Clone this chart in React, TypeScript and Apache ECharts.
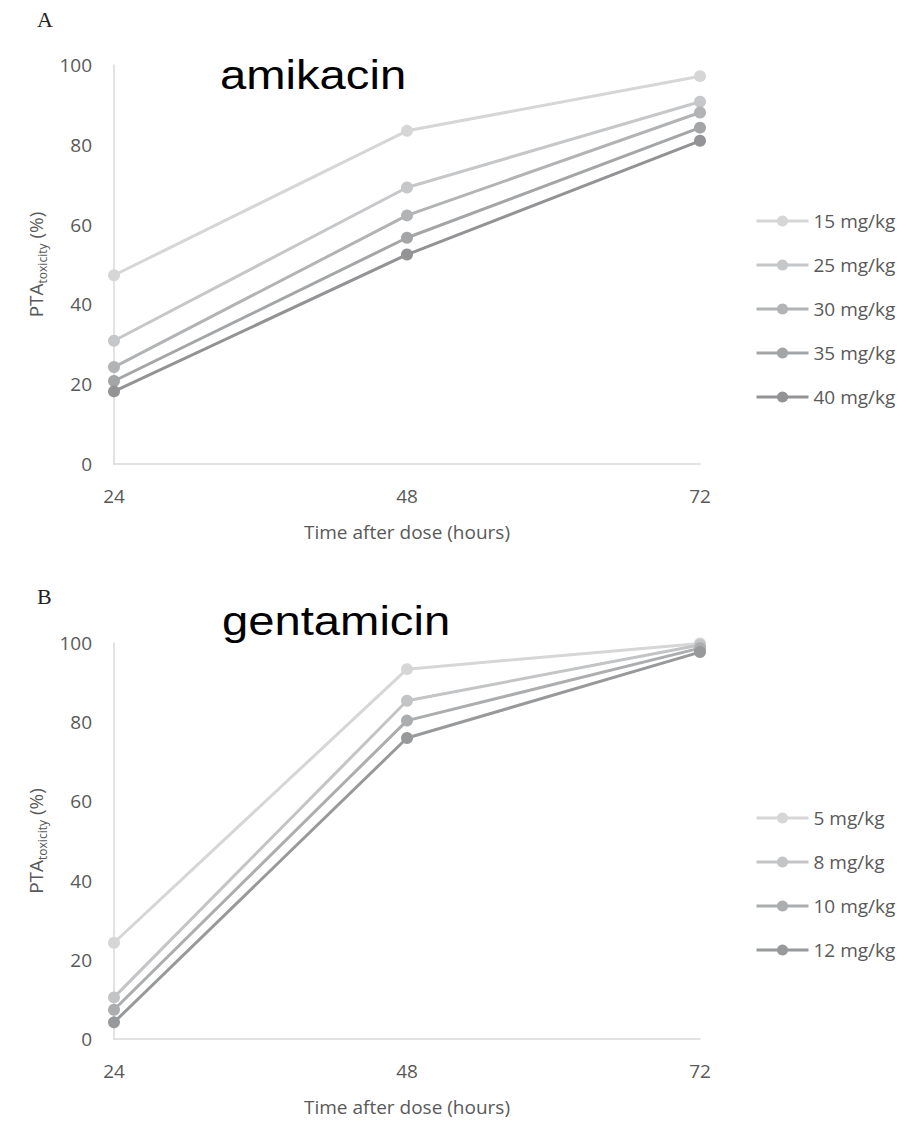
import React, { useEffect, useRef } from 'react';
import * as echarts from 'echarts';

const hours = ['24', '48', '72'];
const yTicks = { min: 0, max: 100, interval: 20 };

const amikacinDoses = ['15 mg/kg', '25 mg/kg', '30 mg/kg', '35 mg/kg', '40 mg/kg'];
const amikacin15 = [47.3, 83.5, 97.2];
const amikacin25 = [30.9, 69.3, 90.8];
const amikacin30 = [24.3, 62.3, 88.1];
const amikacin35 = [20.8, 56.7, 84.3];
const amikacin40 = [18.2, 52.5, 81.0];
const amikacinColors = ['#d6d6d6', '#c6c7c9', '#b2b3b5', '#a4a5a7', '#939396'];

const gentamicinDoses = ['5 mg/kg', '8 mg/kg', '10 mg/kg', '12 mg/kg'];
const gentamicin5 = [24.3, 93.4, 99.9];
const gentamicin8 = [10.5, 85.4, 99.5];
const gentamicin10 = [7.4, 80.4, 98.7];
const gentamicin12 = [4.2, 76.0, 97.7];
const gentamicinColors = ['#d6d6d6', '#c3c4c6', '#acadaf', '#98999b'];

const amikacinData = [amikacin15, amikacin25, amikacin30, amikacin35, amikacin40];
const gentamicinData = [gentamicin5, gentamicin8, gentamicin10, gentamicin12];

const FONT = 'Open Sans';
const GREY = '#595959';
const AXIS = '#d9d9d9';

function xAxis(gridIndex: number) {
  return {
    type: 'category',
    gridIndex,
    data: hours,
    boundaryGap: false,
    axisLine: { show: true, lineStyle: { color: AXIS, width: 1.5 } },
    axisTick: { show: false },
    axisLabel: { color: GREY, fontSize: 19, fontFamily: FONT, margin: 22 },
    name: 'Time after dose (hours)',
    nameLocation: 'middle',
    nameGap: 58,
    nameTextStyle: { color: GREY, fontSize: 19, fontFamily: FONT },
  };
}

function yAxis(gridIndex: number) {
  return {
    type: 'value',
    gridIndex,
    min: yTicks.min,
    max: yTicks.max,
    interval: yTicks.interval,
    axisLine: { show: true, lineStyle: { color: AXIS, width: 1.5 } },
    axisTick: { show: false },
    splitLine: { show: false },
    axisLabel: { color: GREY, fontSize: 19, fontFamily: FONT, margin: 22 },
    name: '{a|PTA}{b|toxicity}{a| (%)}',
    nameLocation: 'middle',
    nameRotate: 90,
    nameGap: 64,
    nameTextStyle: {
      rich: {
        a: { color: GREY, fontSize: 19, fontFamily: FONT, lineHeight: 24, verticalAlign: 'middle' },
        b: { color: GREY, fontSize: 12, fontFamily: FONT, lineHeight: 12, padding: [14, 0, 0, 0], verticalAlign: 'middle' },
      },
    },
  };
}

function legend(names: string[], top: number) {
  return {
    data: names,
    orient: 'vertical',
    left: 750,
    top,
    itemWidth: 52,
    itemHeight: 14,
    itemGap: 24,
    lineStyle: { width: 3 },
    textStyle: { color: GREY, fontSize: 19, fontFamily: FONT, lineHeight: 20 },
  };
}

function lineSeries(name: string, data: number[], color: string, idx: number) {
  return {
    type: 'line',
    name,
    data,
    xAxisIndex: idx,
    yAxisIndex: idx,
    symbol: 'circle',
    symbolSize: 12,
    color,
    itemStyle: { color },
    lineStyle: { color, width: 3 },
  };
}

export default function App() {
  const ref = useRef<HTMLDivElement>(null);
  useEffect(() => {
    if (!ref.current) return;
    const chart = echarts.init(ref.current, undefined, { renderer: 'svg' });
    const series: any[] = [];
    amikacinDoses.forEach((n, i) => series.push(lineSeries(n, amikacinData[i], amikacinColors[i], 0)));
    gentamicinDoses.forEach((n, i) => series.push(lineSeries(n, gentamicinData[i], gentamicinColors[i], 1)));
    chart.setOption({
      animation: false,
      backgroundColor: '#ffffff',
      grid: [
        { left: 114, right: 219, top: 65, height: 399 },
        { left: 114, right: 219, top: 643, height: 396 },
      ],
      xAxis: [xAxis(0), xAxis(1)],
      yAxis: [yAxis(0), yAxis(1)],
      legend: [legend(amikacinDoses, 206), legend(gentamicinDoses, 803)],
      series,
      graphic: [
        { type: 'text', x: 37, y: 19, style: { text: 'A', fontSize: 22, fontFamily: 'Liberation Serif', fill: '#222', verticalAlign: 'middle' } },
        { type: 'text', x: 37, y: 596, style: { text: 'B', fontSize: 22, fontFamily: 'Liberation Serif', fill: '#222', verticalAlign: 'middle' } },
        { type: 'text', x: 220, y: 75, scaleX: 1.18, style: { text: 'amikacin', fontSize: 40, fontFamily: 'Liberation Sans', fill: '#000', verticalAlign: 'middle' } },
        { type: 'text', x: 222, y: 621, scaleX: 1.18, style: { text: 'gentamicin', fontSize: 40, fontFamily: 'Liberation Sans', fill: '#000', verticalAlign: 'middle' } },
      ],
    });
    return () => chart.dispose();
  }, []);
  return <div ref={ref} style={{ position: 'absolute', left: 0, top: 0, width: 919, height: 1121 }} />;
}
